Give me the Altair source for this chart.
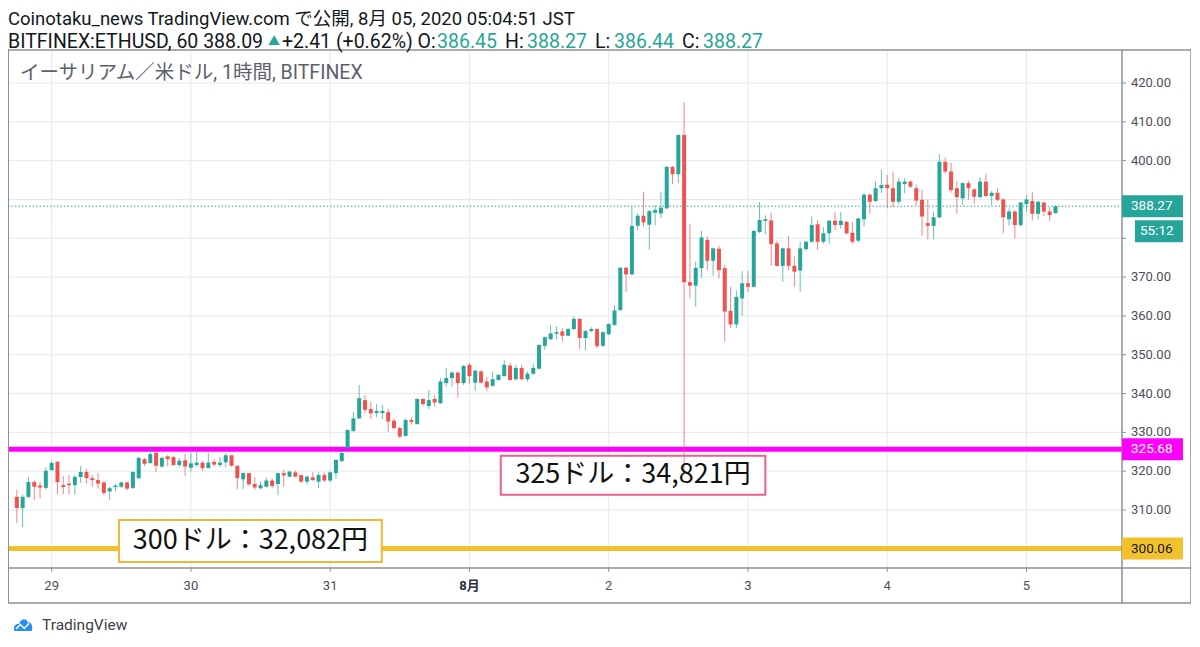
import altair as alt
import pandas as pd

# ---------------- data (hourly candles, hours from 29 Jul 00:00 JST) ----------------
HOURS = list(range(-6, 174))
OPEN = [313.4, 310.5, 313.4, 317.2, 316.3, 315.7,
        320.3, 322.4, 316.4, 316.8, 316.4, 318.5, 319.8, 318.2, 317.7, 317.1, 314.8, 315.9,
        316.0, 317.1, 315.7, 318.2, 323.1, 322.1, 324.7, 321.2, 323.8, 323.6, 321.6, 322.8,
        320.9, 321.6, 322.2, 320.8, 322.4, 321.6, 322.3, 324.1, 321.4, 317.9, 319.5, 316.7,
        315.6, 316.0, 317.6, 316.7, 319.5, 318.6, 319.7, 319.0, 317.3, 318.4, 317.3, 319.0,
        317.6, 319.5, 322.6, 325.9, 330.4, 333.6, 338.3, 336.0, 335.0, 335.0, 335.2, 333.0,
        331.1, 329.1, 333.2, 332.1, 338.6, 336.8, 338.6, 337.5, 342.7, 344.0, 345.4, 342.7,
        347.4, 342.8, 345.7, 343.1, 342.0, 343.5, 344.5, 347.2, 343.7, 346.6, 343.7, 345.1,
        346.4, 352.3, 354.0, 355.4, 356.0, 354.9, 356.6, 359.2, 354.3, 356.1, 356.6, 352.3,
        355.3, 357.7, 361.5, 372.4, 370.7, 383.2, 385.8, 383.5, 386.6, 386.4, 387.7, 398.4,
        396.5, 406.6, 368.7, 367.8, 372.3, 379.6, 374.2, 377.3, 372.3, 361.3, 357.8, 364.5,
        368.4, 367.5, 381.6, 384.5, 384.6, 378.7, 372.9, 377.4, 372.9, 371.7, 377.2, 379.1,
        383.6, 379.1, 381.3, 384.5, 383.4, 384.2, 381.4, 379.4, 384.9, 391.2, 389.6, 392.9,
        393.8, 392.9, 389.4, 394.0, 394.6, 392.9, 389.9, 383.9, 383.2, 385.4, 399.7, 397.2,
        392.9, 390.3, 394.2, 392.6, 390.6, 394.6, 390.9, 391.7, 390.0, 384.9, 386.9, 383.4,
        388.8, 389.6, 386.3, 389.2, 386.9, 386.45]
HIGH = [315.2, 314.0, 318.5, 317.7, 317.2, 321.0,
        322.6, 322.6, 318.7, 319.0, 319.0, 321.3, 320.6, 319.0, 319.5, 317.3, 316.0, 316.7,
        317.3, 317.3, 320.0, 323.8, 323.4, 326.5, 325.1, 323.8, 324.2, 324.0, 323.4, 324.4,
        324.8, 325.0, 322.6, 324.8, 323.1, 323.6, 324.6, 324.1, 321.4, 319.7, 319.5, 318.4,
        317.4, 318.4, 318.2, 319.6, 320.4, 320.2, 320.2, 319.1, 318.8, 319.7, 319.7, 319.7,
        319.9, 323.1, 325.2, 330.8, 335.3, 342.2, 339.6, 337.9, 337.3, 337.1, 336.1, 333.6,
        331.5, 333.6, 333.9, 338.8, 338.8, 340.9, 339.6, 344.0, 346.5, 345.7, 345.7, 347.4,
        347.9, 346.1, 346.0, 344.2, 345.7, 345.1, 348.6, 347.9, 347.4, 347.4, 345.7, 347.7,
        352.7, 354.7, 357.7, 357.3, 356.9, 356.9, 359.9, 359.5, 356.4, 357.1, 356.9, 356.1,
        358.1, 362.8, 372.6, 372.6, 388.1, 386.4, 392.0, 387.3, 388.5, 391.9, 398.6, 398.6,
        406.8, 415.0, 383.6, 374.0, 381.9, 380.5, 377.6, 378.1, 373.1, 367.5, 366.6, 371.6,
        371.6, 382.1, 389.3, 385.9, 386.6, 379.4, 377.6, 380.6, 375.3, 379.2, 379.3, 385.6,
        384.7, 382.8, 384.7, 386.8, 386.8, 384.5, 384.2, 385.3, 391.6, 391.6, 394.8, 397.6,
        396.3, 397.2, 395.5, 395.5, 394.8, 393.8, 392.4, 389.9, 386.9, 401.7, 400.8, 399.5,
        394.8, 394.4, 394.8, 392.9, 395.8, 396.6, 392.2, 392.9, 390.3, 387.7, 387.2, 389.4,
        391.2, 392.0, 389.6, 389.4, 388.1, 388.27]
LOW = [306.7, 305.6, 313.0, 312.6, 313.0, 315.3,
       320.0, 314.1, 314.0, 314.0, 314.0, 317.0, 316.8, 316.0, 315.5, 313.8, 312.6, 314.8,
       315.7, 315.0, 315.4, 318.0, 321.3, 321.9, 319.8, 320.9, 321.3, 321.3, 321.0, 318.8,
       319.9, 321.0, 320.0, 320.8, 321.2, 321.0, 321.0, 321.2, 315.4, 315.4, 316.2, 315.3,
       315.3, 315.8, 315.6, 313.9, 316.0, 318.4, 318.4, 317.0, 316.6, 317.5, 315.6, 317.2,
       317.2, 318.1, 322.4, 325.7, 330.1, 333.4, 334.9, 333.4, 333.9, 333.4, 330.2, 330.8,
       328.5, 328.9, 332.0, 332.1, 336.8, 336.0, 336.6, 337.3, 341.8, 341.8, 339.0, 342.2,
       342.5, 340.7, 342.6, 340.7, 341.8, 343.3, 344.4, 343.3, 343.3, 343.5, 343.1, 344.8,
       346.2, 351.3, 353.7, 353.9, 353.4, 354.7, 356.4, 351.4, 351.2, 355.8, 351.7, 352.0,
       355.0, 357.4, 361.2, 366.1, 370.5, 382.1, 383.0, 377.0, 383.3, 385.2, 387.6, 393.9,
       394.2, 319.6, 364.5, 362.4, 369.8, 371.8, 370.4, 369.7, 353.4, 356.8, 356.8, 360.1,
       366.1, 367.3, 381.3, 381.0, 372.9, 372.6, 368.8, 371.7, 367.5, 366.2, 376.8, 378.8,
       377.0, 378.6, 378.6, 382.1, 382.5, 380.9, 378.6, 379.0, 383.0, 386.3, 389.3, 391.6,
       387.7, 388.0, 388.7, 391.6, 392.9, 388.4, 380.6, 379.7, 379.7, 385.1, 396.6, 391.7,
       386.3, 388.6, 389.9, 388.9, 390.3, 390.6, 388.4, 389.5, 381.3, 383.2, 380.0, 383.0,
       386.8, 384.6, 384.8, 385.8, 384.5, 386.44]
CLOSE = [310.5, 313.4, 317.2, 316.0, 315.8, 320.1,
         322.1, 317.2, 315.9, 316.4, 318.5, 319.8, 318.2, 317.7, 316.8, 314.4, 315.6, 316.3,
         317.1, 315.5, 319.8, 323.4, 321.9, 324.4, 321.4, 323.4, 323.1, 321.6, 322.7, 321.2,
         322.0, 322.2, 320.8, 322.2, 321.7, 322.2, 324.1, 321.4, 318.2, 319.5, 316.6, 315.8,
         316.4, 317.6, 316.2, 319.5, 318.9, 319.9, 318.6, 317.3, 318.6, 317.7, 319.0, 317.6,
         319.7, 322.9, 324.7, 330.6, 333.6, 338.8, 335.8, 334.9, 335.5, 335.5, 332.8, 331.1,
         328.9, 333.2, 332.7, 338.6, 337.3, 338.3, 337.7, 343.1, 344.0, 345.4, 342.7, 347.1,
         344.5, 345.9, 342.8, 341.6, 343.7, 344.8, 347.4, 343.5, 346.6, 343.7, 345.1, 346.6,
         352.5, 354.5, 355.5, 355.8, 354.9, 356.6, 359.2, 354.3, 356.1, 356.6, 352.2, 355.8,
         357.9, 361.4, 372.4, 370.7, 383.2, 385.8, 384.1, 387.0, 387.3, 387.9, 398.4, 396.5,
         406.6, 368.7, 367.8, 372.4, 380.2, 374.2, 377.4, 371.8, 361.1, 357.8, 364.9, 368.4,
         367.5, 381.9, 384.7, 384.9, 378.5, 372.9, 377.4, 372.9, 371.4, 377.4, 379.1, 383.4,
         379.1, 381.3, 384.5, 383.4, 384.5, 381.3, 379.1, 385.1, 391.2, 389.4, 392.9, 393.7,
         392.9, 389.4, 394.6, 394.6, 393.3, 389.7, 385.6, 383.2, 385.4, 399.7, 397.2, 392.4,
         390.6, 394.2, 392.9, 390.7, 394.6, 390.9, 391.7, 389.9, 385.4, 386.9, 383.4, 389.2,
         390.0, 386.3, 389.4, 386.9, 386.0, 388.27]

DAY_TICKS = [0, 24, 48, 72, 96, 120, 144, 168]
DAY_LABELS = ["29", "30", "31", "8月", "2", "3", "4", "5"]
PRICE_TICKS = [310, 320, 330, 340, 350, 360, 370, 380, 390, 400, 410, 420]
PRICE_LABELS = ["%.2f" % p for p in PRICE_TICKS]

LAST_PRICE = 388.27
LEVEL_325 = 325.68
LEVEL_300 = 300.06
COUNTDOWN = "55:12"

HEADER_1 = "Coinotaku_news TradingView.com で公開, 8月 05, 2020 05:04:51 JST"
LEGEND = "イーサリアム／米ドル, 1時間, BITFINEX"
ANNOTATIONS = [
    {"text": "325ドル：34,821円", "t0": 77.4, "t1": 123.0, "p0": 313.9, "p1": 324.0, "border": "#e8608e"},
    {"text": "300ドル：32,082円", "t0": 11.6, "t1": 56.9, "p0": 296.6, "p1": 307.4, "border": "#f5b731"},
]

# ---------------- styling ----------------
UP, DOWN = "#26a69a", "#ef5350"
TEAL = "#26a69a"
DARK = "#131722"
FONT = "Roboto, 'Noto Sans CJK JP', sans-serif"
JFONT = "'Noto Sans CJK JP', sans-serif"
W, H = 1114, 518
FRAME = "#8c8f98"
GRID = "#e3e9f0"
LABEL = "#4c4f58"

x_scale = alt.Scale(domain=[-6.66, 183.6], nice=False, zero=False)
y_scale = alt.Scale(domain=[295.06, 428.5], nice=False, zero=False)

df = pd.DataFrame({"t": HOURS, "o": OPEN, "h": HIGH, "l": LOW, "c": CLOSE})
dir_color = alt.condition("datum.c >= datum.o", alt.value(UP), alt.value(DOWN))

day_df = pd.DataFrame({"d": DAY_TICKS, "s": DAY_LABELS})
price_df = pd.DataFrame({"p": PRICE_TICKS, "s": PRICE_LABELS})
month_tick = DAY_TICKS[DAY_LABELS.index("8月")]

# ---- axes drawn through the scales ----
xq = alt.X("d:Q", scale=x_scale, axis=None)
yq = alt.Y("p:Q", scale=y_scale, axis=None)
day_grid = alt.Chart(day_df).mark_rule(color=GRID, strokeWidth=1).encode(
    x=xq, y=alt.value(0), y2=alt.value(H))
price_grid = alt.Chart(price_df).mark_rule(color=GRID, strokeWidth=1).encode(
    y=yq, x=alt.value(0), x2=alt.value(W))
day_ticks = alt.Chart(day_df).mark_rule(color=FRAME, strokeWidth=1).encode(
    x=xq, y=alt.value(H), y2=alt.value(H + 4))
price_ticks = alt.Chart(price_df).mark_rule(color=FRAME, strokeWidth=1).encode(
    y=yq, x=alt.value(W), x2=alt.value(W + 4))
day_text = alt.Chart(day_df).transform_filter("datum.d != %d" % month_tick).mark_text(
    baseline="middle", fontSize=13, font=FONT, color=LABEL).encode(
    x=xq, y=alt.value(536), text="s:N")
month_text = alt.Chart(day_df).transform_filter("datum.d == %d" % month_tick).mark_text(
    baseline="middle", fontSize=13, font=FONT, color="#2a2e39", fontWeight="bold").encode(
    x=xq, y=alt.value(536), text="s:N")
# labels hidden under the live price tags are left out
price_text = alt.Chart(price_df).transform_filter(
    "abs(datum.p - %f) > 10" % LAST_PRICE).mark_text(
    align="left", baseline="middle", fontSize=13, font=FONT, color=LABEL).encode(
    y=yq, x=alt.value(W + 9), text="s:N")

wicks = alt.Chart(df).mark_rule(strokeWidth=1, opacity=0.7).encode(
    x=alt.X("t:Q", scale=x_scale, axis=None),
    y=alt.Y("l:Q", scale=y_scale, axis=None),
    y2="h:Q",
    color=dir_color,
)

bodies = alt.Chart(df).mark_bar(size=4).encode(
    x=alt.X("t:Q", scale=x_scale, axis=None),
    y=alt.Y("o:Q", scale=y_scale, axis=None),
    y2="c:Q",
    color=dir_color,
)


def level(p, color, width, x1, x2, dash=None, yoff=0):
    props = dict(color=color, strokeWidth=width, strokeCap="butt")
    if dash:
        props["strokeDash"] = dash
    if yoff:
        props["yOffset"] = yoff
    return alt.Chart(pd.DataFrame({"p": [p]})).mark_rule(**props).encode(
        y=alt.Y("p:Q", scale=y_scale, axis=None), x=alt.value(x1), x2=alt.value(x2))


def tag_text(p, text, x, color, yoff=0):
    props = dict(align="left", baseline="middle", color=color, fontSize=13.5, font=FONT)
    if yoff:
        props["yOffset"] = yoff
    return alt.Chart(pd.DataFrame({"p": [p], "s": [text]})).mark_text(**props).encode(
        y=alt.Y("p:Q", scale=y_scale, axis=None), x=alt.value(x), text="s:N")


def label(text, x, y, color=DARK, size=18, font=FONT, weight="normal"):
    return alt.Chart(pd.DataFrame({"s": [text]})).mark_text(
        align="left", baseline="middle", color=color, fontSize=size, font=font, fontWeight=weight
    ).encode(text="s:N", x=alt.value(x), y=alt.value(y))


def frame_h(x1, x2, y, w=1.5):
    return alt.Chart(pd.DataFrame({"k": [0]})).mark_rule(color=FRAME, strokeWidth=w).encode(
        x=alt.value(x1), x2=alt.value(x2), y=alt.value(y))


def frame_v(x, y1, y2, w=1.5):
    return alt.Chart(pd.DataFrame({"k": [0]})).mark_rule(color=FRAME, strokeWidth=w).encode(
        x=alt.value(x), y=alt.value(y1), y2=alt.value(y2))


ann_df = pd.DataFrame(ANNOTATIONS)
ann_boxes = alt.Chart(ann_df).mark_rect(fill="white", strokeWidth=2).encode(
    x=alt.X("t0:Q", scale=x_scale, axis=None), x2="t1:Q",
    y=alt.Y("p0:Q", scale=y_scale, axis=None), y2="p1:Q",
    stroke=alt.Stroke("border:N", scale=None),
)
ann_df2 = ann_df.assign(tm=(ann_df.t0 + ann_df.t1) / 2, pm=(ann_df.p0 + ann_df.p1) / 2)
ann_text = alt.Chart(ann_df2).mark_text(fontSize=27, font=JFONT, color="#111111", baseline="middle").encode(
    x=alt.X("tm:Q", scale=x_scale, axis=None),
    y=alt.Y("pm:Q", scale=y_scale, axis=None),
    text="text:N",
)

# header line 2 segments
HS = 19.5
header2 = [
    ("BITFINEX:ETHUSD, 60 388.09", 0, DARK, HS),
    ("▲", 260, TEAL, 12),
    ("+2.41 (+0.62%) O:", 274, DARK, HS),
    ("386.45", 429, TEAL, HS),
    ("H:", 497, DARK, HS),
    ("388.27", 519, TEAL, HS),
    ("L:", 587, DARK, HS),
    ("386.44", 606, TEAL, HS),
    ("C:", 674, DARK, HS),
    ("388.27", 695, TEAL, HS),
]

cloud = alt.Chart(pd.DataFrame({"k": [0]})).mark_point(
    shape="M -1 0.7 C -1.2 0.1 -0.7 -0.25 -0.45 -0.1 C -0.3 -0.8 0.45 -0.85 0.55 -0.3 C 0.95 -0.45 1.2 0.2 1 0.7 Z",
    filled=True, color="#2a8ff5", opacity=1, size=300).encode(x=alt.value(15), y=alt.value(575))
cloud_zig = alt.Chart(pd.DataFrame({"k": [0]})).mark_point(
    shape="M -0.8 0.45 L -0.3 -0.05 L 0.15 0.4 L 0.7 -0.2",
    filled=False, color="white", strokeWidth=1.5, opacity=1, size=300).encode(x=alt.value(15), y=alt.value(575))

layers = [
    day_grid, price_grid,
    level(LEVEL_325, "#ff00ff", 5, 0, W),
    level(LEVEL_300, "#f2c12e", 5, 0, W),
    ann_boxes,
    wicks,
    bodies,
    level(LAST_PRICE, TEAL, 1, 0, W, dash=[1.5, 2]),
    ann_text,
    # frame
    frame_h(0, 1183, 0), frame_h(0, 1183, 518), frame_h(0, 1183, 553),
    frame_v(0, 0, 553, 2), frame_v(1114, 0, 553), frame_v(1183, 0, 553),
    day_ticks, price_ticks, day_text, month_text, price_text,
    # price tags
    level(LEVEL_325, "#ff00ff", 22, 1114, 1175),
    tag_text(LEVEL_325, "325.68", 1123, "white"),
    level(LEVEL_300, "#f2c12e", 22, 1114, 1175),
    tag_text(LEVEL_300, "300.06", 1123, DARK),
    level(LAST_PRICE, TEAL, 22, 1114, 1175),
    tag_text(LAST_PRICE, "388.27", 1123, "white"),
    level(LAST_PRICE, TEAL, 22, 1127, 1175, yoff=25),
    tag_text(LAST_PRICE, COUNTDOWN, 1132, "white", yoff=25),
    # texts
    label(HEADER_1, 0, -31, size=18.5),
    label(LEGEND, 12, 23, color="#5d606b", size=19.5),
    label("TradingView", 34, 575, color="#3d3f46", size=15.5),
    cloud, cloud_zig,
] + [label(s, x, -8.5, color=c, size=sz) for s, x, c, sz in header2]

chart = alt.layer(*layers).properties(
    width=W, height=H,
    padding={"left": 0, "top": 42, "right": 69, "bottom": 79},
    autosize=alt.AutoSizeParams(type="none"),
    background="white",
).configure_view(strokeWidth=0)

chart.save("out.html", embed_options={"renderer": "svg", "actions": False})
